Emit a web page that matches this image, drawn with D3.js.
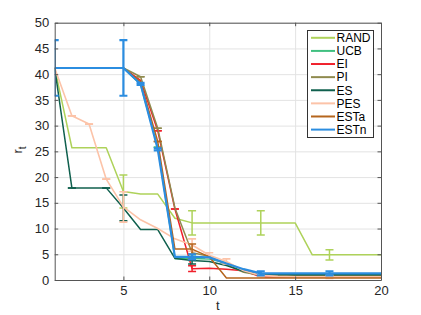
<!DOCTYPE html>
<html><head><meta charset="utf-8">
<script src="https://cdn.jsdelivr.net/npm/d3@7"></script>
<style>
body{margin:0;background:#fff;}
svg{display:block;font-family:"Liberation Sans",Arial,sans-serif;}
</style></head>
<body><svg id="c" width="421" height="315"></svg>
<script>
const tValues = d3.range(1, 21);
const seriesNames = ["RAND","UCB","EI","PI","ES","PES","ESTa","ESTn"];
const seriesColors = ["#aed25a","#40c080","#f0202c","#8f8a4e","#10604e","#fcc3a8","#b5651d","#2b8de0"];
const xTicks = [5,10,15,20];
const yTicks = [0,5,10,15,20,25,30,35,40,45,50];

const RAND = [41.2,25.7,25.7,25.7,17.2,16.7,16.7,12.0,11.1,11.1,11.1,11.1,11.1,11.1,11.1,4.9,4.9,4.9,4.9,4.9];
const UCB  = [41.2,41.2,41.2,41.2,41.2,38.0,25.8,4.2,4.2,4.1,3.3,1.9,1.2,1.1,1.1,1.1,1.1,1.1,1.1,1.1];
const EI   = [41.2,41.2,41.2,41.2,41.2,38.8,29.0,13.8,2.2,2.3,2.1,1.8,0.6,0.6,0.6,0.6,0.6,0.6,0.6,0.6];
const PI   = [41.2,41.2,41.2,41.2,41.2,39.5,29.5,14.0,5.3,4.6,3.0,1.5,0.9,0.9,0.9,0.9,0.9,0.9,0.9,0.9];
const ES   = [41.2,17.9,17.9,17.9,14.0,9.8,9.8,4.2,3.8,3.6,2.8,1.7,1.1,1.0,1.0,1.0,1.0,1.0,1.0,1.0];
const PES  = [41.2,31.9,30.3,19.6,14.2,11.7,10.0,8.0,6.8,4.8,3.6,1.8,0.9,0.7,0.6,0.6,0.6,0.6,0.6,0.6];
const ESTa = [41.2,41.2,41.2,41.2,41.2,38.5,26.9,6.0,6.0,4.5,0.4,0.4,0.4,0.4,0.4,0.4,0.4,0.4,0.4,0.4];
const ESTn = [41.2,41.2,41.2,41.2,41.2,38.1,25.4,4.5,4.5,4.4,3.2,2.1,1.3,1.3,1.3,1.3,1.3,1.3,1.3,1.3];

// error bar half-widths (null = no error bar drawn)
const RANDerr = [null,null,null,null,3.2,null,null,null,2.35,null,null,null,2.35,null,null,null,1.0,null,null,null];
const UCBerr  = [null,null,null,null,null,null,0,null,0.4,null,null,null,null,null,null,null,null,null,null,null];
const EIerr   = [null,null,null,null,null,null,0,0,0.55,null,null,null,null,null,null,null,null,null,null,null];
const PIerr   = [null,null,null,null,null,0,0,null,null,null,null,null,null,null,null,null,null,null,null,null];
const ESerr   = [null,0,null,0,2.5,null,null,null,0.7,null,null,null,null,null,null,null,null,null,null,null];
const PESerr  = [null,0,0,0,2.95,null,null,null,1.2,0.5,0.5,null,0.3,null,null,null,0.3,null,null,null];
const ESTaerr = [null,null,null,null,null,null,0,null,1.0,null,null,null,null,null,null,null,null,null,null,null];
const ESTnerr = [5.4,null,null,null,5.4,0.2,0.2,null,0.5,null,null,null,0.4,null,null,null,0.4,null,null,null];

const values = [RAND,UCB,EI,PI,ES,PES,ESTa,ESTn];
const errs = [RANDerr,UCBerr,EIerr,PIerr,ESerr,PESerr,ESTaerr,ESTnerr];
const widths = [1.5,1.5,1.5,1.5,1.5,1.6,1.5,2.2];

const svg = d3.select("#c");
const L=54.7, R=381, T=22.7, B=280;
const x = d3.scaleLinear().domain([1,20]).range([L,R]);
const y = d3.scaleLinear().domain([0,50]).range([B,T]);

// grid
svg.append("g").attr("transform",`translate(0,${B})`)
  .call(d3.axisBottom(x).tickValues(xTicks).tickSize(-(B-T)).tickFormat(""))
  .call(g=>g.select(".domain").remove())
  .call(g=>g.selectAll("line").attr("stroke","#e3e3e3").attr("stroke-width",1));
svg.append("g").attr("transform",`translate(${L},0)`)
  .call(d3.axisLeft(y).tickValues(yTicks).tickSize(-(R-L)).tickFormat(""))
  .call(g=>g.select(".domain").remove())
  .call(g=>g.selectAll("line").attr("stroke","#e3e3e3").attr("stroke-width",1));

svg.append("defs").append("clipPath").attr("id","clip")
  .append("rect").attr("x",L).attr("y",T).attr("width",R-L).attr("height",B-T);

const plot = svg.append("g").attr("clip-path","url(#clip)");
const line = d3.line().x((d,i)=>x(tValues[i])).y(d=>y(d));
values.forEach((vals,si)=>{
  const col = seriesColors[si];
  plot.append("path").datum(vals).attr("d",line)
    .attr("fill","none").attr("stroke",col).attr("stroke-width",widths[si]).attr("stroke-linejoin","round");
  const eb = plot.append("g").attr("stroke",col).attr("stroke-width",widths[si]);
  vals.forEach((v,i)=>{
    const e = errs[si][i];
    if(e===null) return;
    const cx = x(tValues[i]);
    eb.append("line").attr("x1",cx).attr("x2",cx).attr("y1",y(v-e)).attr("y2",y(v+e));
    eb.append("line").attr("x1",cx-4).attr("x2",cx+4).attr("y1",y(v-e)).attr("y2",y(v-e));
    eb.append("line").attr("x1",cx-4).attr("x2",cx+4).attr("y1",y(v+e)).attr("y2",y(v+e));
  });
});

// axes (box, inward ticks)
const axCol="#555";
function styleAxis(g){
  g.select(".domain").attr("stroke",axCol);
  g.selectAll(".tick line").attr("stroke",axCol);
  g.selectAll("text").attr("fill","#262626").style("font-size","13px").style("font-family","Liberation Sans, Arial, sans-serif");
}
svg.append("g").attr("transform",`translate(0,${B})`)
  .call(d3.axisBottom(x).tickValues(xTicks).tickSizeInner(-3.5).tickSizeOuter(0).tickPadding(6).tickFormat(d3.format("d")))
  .call(styleAxis);
svg.append("g").attr("transform",`translate(0,${T})`)
  .call(d3.axisTop(x).tickValues(xTicks).tickSizeInner(-3.5).tickSizeOuter(0).tickFormat(""))
  .call(styleAxis);
svg.append("g").attr("transform",`translate(${L},0)`)
  .call(d3.axisLeft(y).tickValues(yTicks).tickSizeInner(-3.5).tickSizeOuter(0).tickPadding(5.5).tickFormat(d3.format("d")))
  .call(styleAxis);
svg.append("g").attr("transform",`translate(${R},0)`)
  .call(d3.axisRight(y).tickValues(yTicks).tickSizeInner(-3.5).tickSizeOuter(0).tickFormat(""))
  .call(styleAxis);

// axis labels
svg.append("text").attr("x",(L+R)/2).attr("y",310).attr("text-anchor","middle")
  .attr("fill","#262626").style("font-size","13px").text("t");
const yl = svg.append("text").attr("transform","translate(22,150) rotate(-90)")
  .attr("text-anchor","middle").attr("fill","#262626").style("font-size","13px");
yl.append("tspan").text("r");
yl.append("tspan").attr("dy",3.5).style("font-size","10px").text("t");

// legend
const lg = svg.append("g");
lg.append("rect").attr("x",307.5).attr("y",30.5).attr("width",66).attr("height",107)
  .attr("fill","#fff").attr("stroke","#333").attr("stroke-width",1);
const ly = d3.scalePoint().domain(seriesNames).range([37.8,129.6]);
seriesNames.forEach((n,i)=>{
  const yy = ly(n);
  lg.append("line").attr("x1",311).attr("x2",335).attr("y1",yy).attr("y2",yy)
    .attr("stroke",seriesColors[i]).attr("stroke-width",2);
  lg.append("text").attr("x",336.5).attr("y",yy+4.3).attr("fill","#000")
    .style("font-size","12px").text(n);
});
</script></body></html>
